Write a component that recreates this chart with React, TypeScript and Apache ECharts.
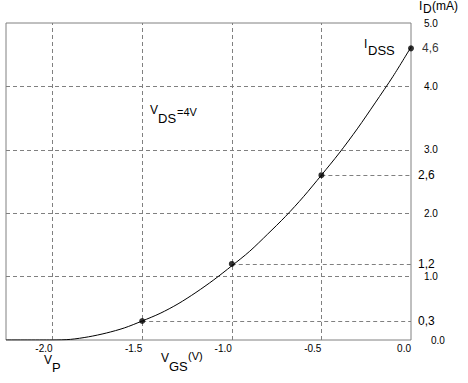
import React, { useEffect, useRef } from "react";
import * as echarts from "echarts";

// Curve (VGS in V, ID in mA)
const curveVgs = [-2.26, -2.0, -1.9, -1.8, -1.7, -1.6, -1.5, -1.4, -1.3, -1.2, -1.1, -1.0, -0.9, -0.8, -0.7, -0.6, -0.5, -0.4, -0.3, -0.2, -0.1, 0.0];
const curveId = [0, 0, 0.01, 0.05, 0.11, 0.19, 0.3, 0.42, 0.57, 0.75, 0.95, 1.17, 1.4, 1.67, 1.95, 2.26, 2.6, 2.95, 3.33, 3.74, 4.16, 4.62];

// Marked points
const pointVgs = [-1.5, -1.0, -0.5, 0.0];
const pointId = [0.3, 1.2, 2.6, 4.6];
const pointLabels = ["0,3", "1,2", "2,6", "4,6"];

// Axis ticks
const xTicks = [-2.0, -1.5, -1.0, -0.5, 0.0];
const xGridLines = [-2.0, -1.5, -1.0, -0.5];
const yTicks = [0, 1, 2, 3, 4, 5];

const FONT = "'Liberation Sans', Arial, sans-serif";
const GRAY = "#808080";

export default function App() {
  const ref = useRef<HTMLDivElement>(null);

  useEffect(() => {
    if (!ref.current) return;
    const chart = echarts.init(ref.current, undefined, { renderer: "svg" });

    const dashed = { color: GRAY, width: 1, type: [4, 3] as any };

    const markData: any[] = [];
    xGridLines.forEach((v) => markData.push({ xAxis: v }));
    yTicks.filter((v) => v > 0 && v < 5).forEach((v) => markData.push({ yAxis: v }));
    pointVgs.forEach((x, i) => {
      if (x >= 0) return;
      const lbl = {
        show: true,
        position: "end",
        distance: 7,
        formatter: pointLabels[i],
        color: "#000",
        fontSize: 12,
        fontFamily: FONT,
      };
      markData.push([
        { coord: [x, pointId[i]], label: lbl },
        { coord: [0, pointId[i]], label: lbl },
      ]);
    });

    const txt = (text: string, x: number, y: number, size: number) => ({
      type: "text",
      x,
      y,
      silent: true,
      style: { text, fontSize: size, fontFamily: FONT, fill: "#000", verticalAlign: "top" },
    });

    chart.setOption({
      animation: false,
      backgroundColor: "#fff",
      grid: {
        left: 6,
        right: 57,
        top: 23,
        bottom: 43,
        show: true,
        borderColor: GRAY,
        borderWidth: 1,
        containLabel: false,
      },
      xAxis: {
        type: "value",
        min: -2.26,
        max: 0,
        axisLine: { show: false },
        axisTick: { show: false },
        splitLine: { show: false },
        axisLabel: {
          customValues: xTicks,
          formatter: (v: number) => v.toFixed(1),
          fontSize: 10,
          fontFamily: FONT,
          color: "#000",
          margin: 3,
          align: "right",
        },
      },
      yAxis: {
        type: "value",
        position: "right",
        min: 0,
        max: 5,
        interval: 1,
        axisLine: { show: false },
        axisTick: { show: false },
        splitLine: { show: false },
        axisLabel: {
          formatter: (v: number) => (v === 0 ? "{z|0.0}" : v.toFixed(1)),
          rich: { z: { padding: [0, 0, 0, 7], fontSize: 10, fontFamily: FONT, color: "#000" } },
          fontSize: 10,
          fontFamily: FONT,
          color: "#000",
          margin: 13,
        },
      },
      series: [
        {
          type: "line",
          data: curveVgs.map((x, i) => [x, curveId[i]]),
          smooth: 0.3,
          symbol: "none",
          lineStyle: { color: "#000", width: 1 },
          z: 3,
          markLine: {
            silent: true,
            symbol: "none",
            lineStyle: dashed,
            label: { show: false },
            emphasis: { disabled: true },
            data: markData,
            z: 1,
          },
        },
        {
          type: "scatter",
          data: pointVgs.map((x, i) => [x, pointId[i]]),
          symbolSize: 6,
          itemStyle: { color: "#000" },
          z: 4,
          label: {
            show: true,
            position: "right",
            distance: 8,
            formatter: (p: any) => (p.dataIndex === pointVgs.length - 1 ? pointLabels[p.dataIndex] : ""),
            color: "#000",
            fontSize: 12,
            fontFamily: FONT,
          },
        },
      ],
      graphic: [
        txt("I", 419, 0, 12),
        txt("D", 423, 3, 12),
        txt("(mA)", 432, 0, 12),
        txt("I", 364, 38, 12),
        txt("DSS", 368, 44, 13),
        txt("V", 150, 104, 12),
        txt("DS", 158, 112, 13),
        txt("=4V", 177, 106, 11),
        txt("V", 44, 354, 12),
        txt("P", 52, 361, 13),
        txt("V", 161, 352, 12),
        txt("GS", 169, 360, 13),
        txt("(V)", 188, 350, 11),
      ],
    });

    return () => chart.dispose();
  }, []);

  return (
    <div
      ref={ref}
      style={{ position: "fixed", left: 0, top: 0, width: 468, height: 383, background: "#fff" }}
    />
  );
}
